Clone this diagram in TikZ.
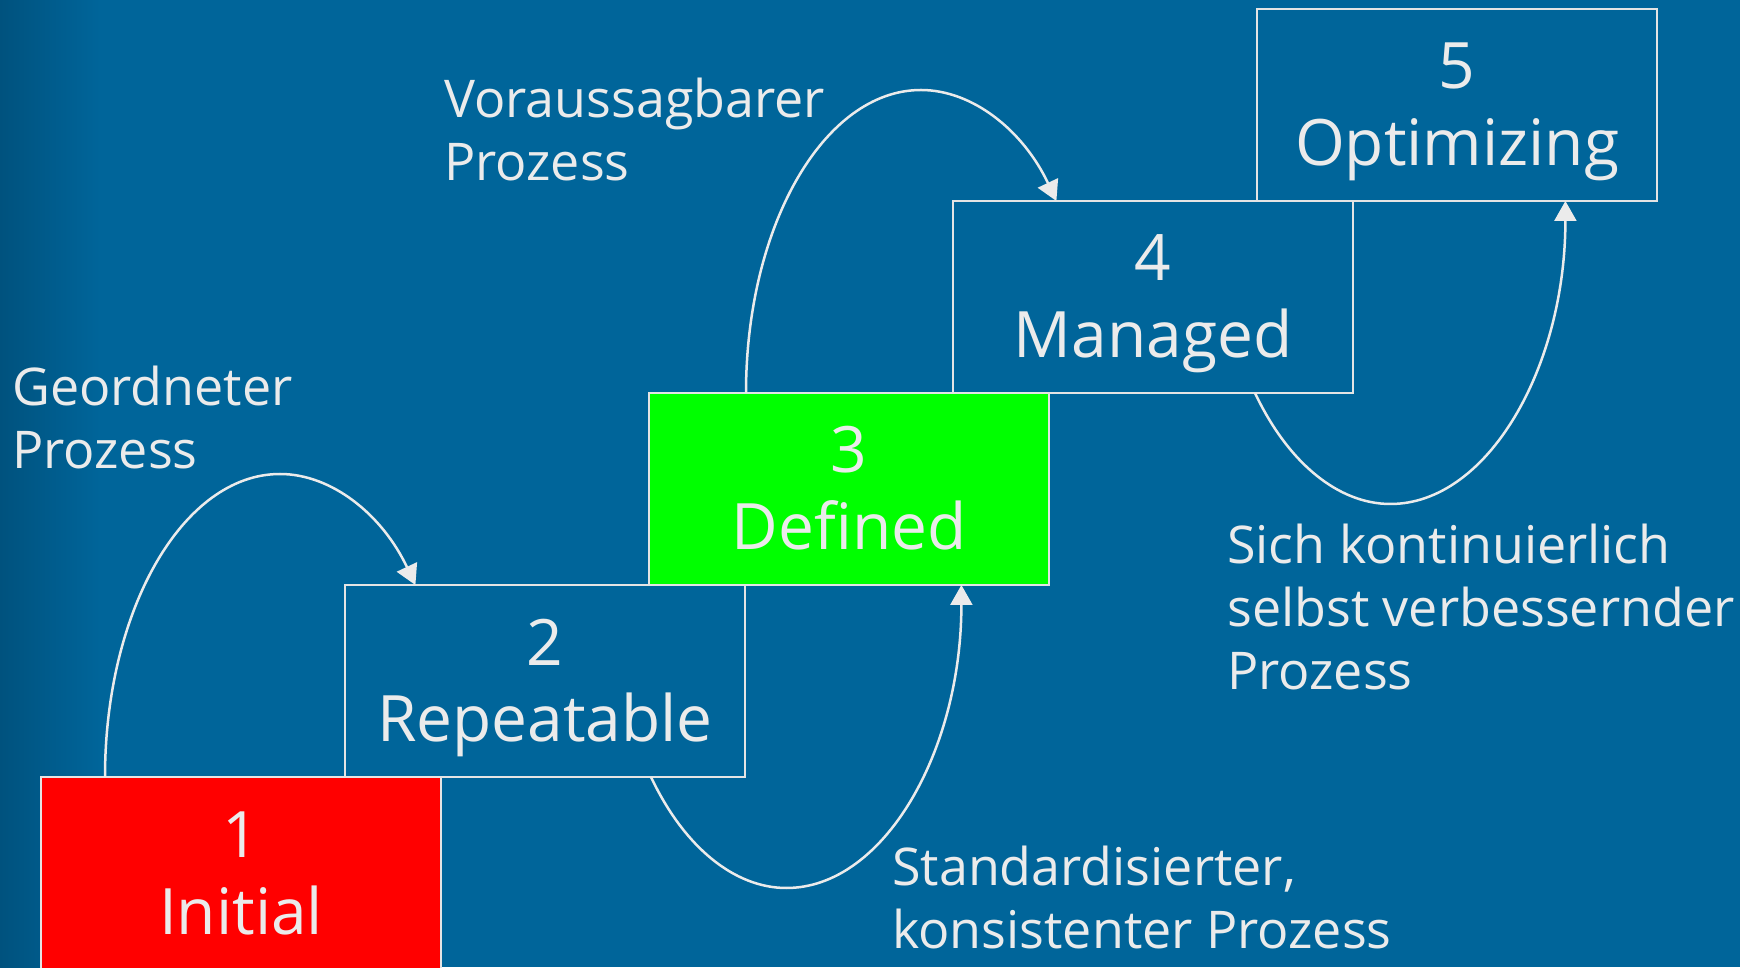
\documentclass[tikz,border=0pt]{standalone}
\usepackage{fontspec}
\setmainfont{Open Sans}
\usetikzlibrary{positioning,arrows.meta}
\definecolor{bgblue}{RGB}{0,101,154}
\definecolor{bgdark}{RGB}{0,82,126}
\definecolor{fgtext}{RGB}{235,235,235}
\definecolor{boxline}{RGB}{228,228,228}
\newcommand{\stagetext}[2]{\rule{0pt}{63pt}#1\\#2\rule[-18pt]{0pt}{18pt}}
\newcommand{\curveover}[3]{\draw[curve] ([xshift=#2pt]#1.north west) .. controls +(0,167) and +(-97,0) .. ([xshift=#2pt+175pt,yshift=303pt]#1.north west) .. controls +(52,0) and +(-33,70) .. ([xshift=#2pt+6.4pt]#3.north west);}
\newcommand{\curveunder}[3]{\draw[curve] ([xshift=#2pt]#1.south west) .. controls +(33,-70) and +(-52,0) .. ([xshift=#2pt+135.4pt,yshift=-111pt]#1.south west) .. controls +(97,0) and +(0,-167) .. ([xshift=#2pt+6.4pt]#3.south west);}

\begin{document}
\begin{tikzpicture}
        [x=1pt,y=1pt,
        stagebox/.style={rectangle,draw=boxline,line width=2pt,minimum width=400pt,minimum height=192pt,
            inner sep=0pt,outer sep=0pt,align=center,text=fgtext,font=\fontsize{64}{77}\selectfont},
        lbl/.style={anchor=north west,inner sep=0pt,align=left,text=fgtext,font=\fontsize{52}{63}\selectfont},
        curve/.style={-{Triangle[width=22pt,length=20pt]},draw=fgtext,line width=2.5pt},
        ]
        \useasboundingbox (0,0) rectangle (1740,967);
        \fill[bgblue] (0,0) rectangle (1740,967);
        \shade[left color=bgdark,right color=bgblue] (0,0) rectangle (100,967);
        % stages
        \node[stagebox, fill=red, anchor=north west] (b1) at (41,190) {\stagetext{1}{Initial}};
        \node[stagebox, above right=0pt and -96pt of b1] (b2) {\stagetext{2}{Repeatable}};
        \node[stagebox, fill=green, above right=0pt and -96pt of b2] (b3) {\stagetext{3}{Defined}};
        \node[stagebox, above right=0pt and -96pt of b3] (b4) {\stagetext{4}{Managed}};
        \node[stagebox, above right=0pt and -96pt of b4] (b5) {\stagetext{5}{Optimizing}};
        % transitions
        \curveover{b1}{64}{b2}
        \curveunder{b2}{306}{b3}
        \curveover{b3}{97}{b4}
        \curveunder{b4}{302}{b5}
        % labels
        \node[lbl] (geordnet) at (12,612) {\rule{0pt}{50pt}Geordneter\\Prozess};
        \node[lbl] (vorauss) at (444,900) {\rule{0pt}{50pt}Voraussagbarer\\Prozess};
        \node[lbl] (standard) at (892,132) {\rule{0pt}{50pt}Standardisierter,\\konsistenter Prozess};
        \node[lbl] (kontin) at (1227,454) {\rule{0pt}{50pt}Sich kontinuierlich\\selbst verbessernder\\Prozess};
\end{tikzpicture}
\end{document}
